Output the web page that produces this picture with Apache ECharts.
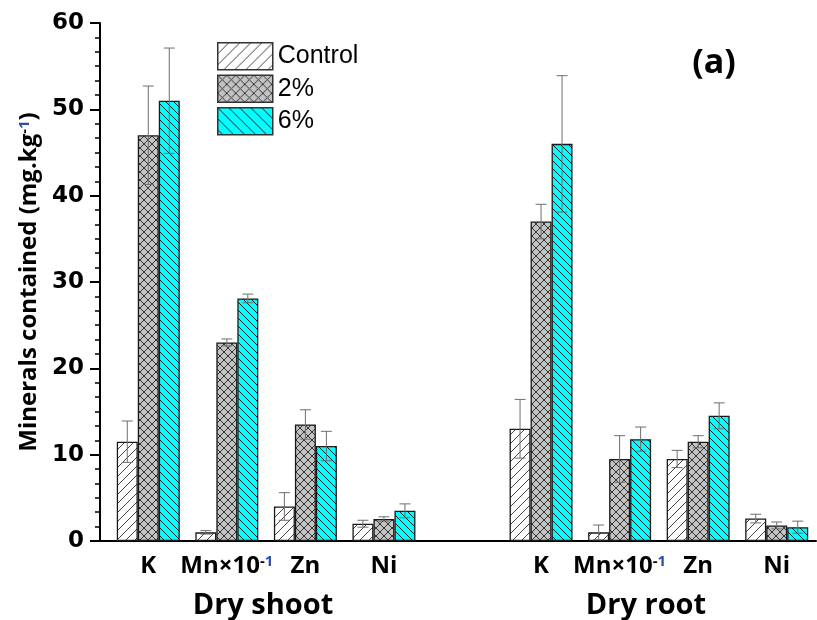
<!DOCTYPE html>
<html><head><meta charset="utf-8">
<script src="https://cdn.jsdelivr.net/npm/echarts@6/dist/echarts.min.js"></script>
<style>html,body{margin:0;padding:0;background:#fff}#c{width:817px;height:620px}</style>
</head><body><div id="c"></div>
<script>
// ---- data ----
var categories = ['K', 'Mn', 'Zn', 'Ni', '', 'K', 'Mn', 'Zn', 'Ni'];
var seriesNames = ['Control', '2%', '6%'];
var controlVals = [11.5, 1.0, 4.0, 2.0, '-', 13.0, 1.0, 9.5, 2.6];
var pct2Vals    = [47.0, 23.0, 13.5, 2.55, '-', 37.0, 9.5, 11.5, 1.8];
var pct6Vals    = [51.0, 28.1, 11.0, 3.5, '-', 46.0, 11.8, 14.5, 1.6];
var controlErr  = [2.4, 0.2, 1.6, 0.4, '-', 3.4, 0.85, 1.0, 0.5];
var pct2Err     = [5.7, 0.4, 1.7, 0.25, '-', 2.0, 2.7, 0.7, 0.4];
var pct6Err     = [6.1, 0.5, 1.7, 0.8, '-', 7.9, 1.4, 1.5, 0.7];
var yTicks = [0, 10, 20, 30, 40, 50, 60];
var groupLabels = ['Dry shoot', 'Dry root'];

// ---- patterns ----
function hatch(s, fill, stroke, dirs) {
  var c = document.createElement('canvas');
  c.width = s; c.height = s;
  var g = c.getContext('2d');
  g.fillStyle = fill; g.fillRect(0, 0, s, s);
  g.strokeStyle = stroke; g.lineWidth = 1;
  dirs.forEach(function (d) {
    g.beginPath();
    if (d === '/') {
      g.moveTo(0, s); g.lineTo(s, 0);
      g.moveTo(-1, 1); g.lineTo(1, -1);
      g.moveTo(s - 1, s + 1); g.lineTo(s + 1, s - 1);
    } else {
      g.moveTo(0, 0); g.lineTo(s, s);
      g.moveTo(-1, s - 1); g.lineTo(1, s + 1);
      g.moveTo(s - 1, -1); g.lineTo(s + 1, 1);
    }
    g.stroke();
  });
  return { image: c, repeat: 'repeat' };
}
var barPatterns = [
  hatch(9, '#ffffff', '#444444', ['/']),
  hatch(8, '#c3c3c3', '#333333', ['/', '\\']),
  hatch(8, '#00ffff', '#222222', ['\\'])
];
var legendPatterns = [
  hatch(11, '#ffffff', '#444444', ['/']),
  hatch(9, '#c3c3c3', '#333333', ['/', '\\']),
  hatch(11, '#00ffff', '#222222', ['\\'])
];

var vals = [controlVals, pct2Vals, pct6Vals];
var errs = [controlErr, pct2Err, pct6Err];
var BW = 21;

var series = [];
seriesNames.forEach(function (n, i) {
  series.push({
    name: n, type: 'bar', data: vals[i], barWidth: BW, barGap: '0%',
    itemStyle: { color: barPatterns[i], borderColor: '#1a1a1a', borderWidth: 1.3 },
    z: 2
  });
});
seriesNames.forEach(function (n, i) {
  var d = [];
  categories.forEach(function (c, k) {
    if (vals[i][k] !== '-') d.push([k, vals[i][k], errs[i][k]]);
  });
  series.push({
    type: 'custom', z: 5, silent: true,
    data: d,
    renderItem: function (params, api) {
      var k = api.value(0), v = api.value(1), e = api.value(2);
      var top = api.coord([k, v + e]);
      var bot = api.coord([k, v - e]);
      var x = top[0] + (i - 1) * BW;
      var hw = 5.5;
      var st = { stroke: '#6e6e6e', lineWidth: 1 };
      return { type: 'group', children: [
        { type: 'line', shape: { x1: x, y1: top[1], x2: x, y2: bot[1] }, style: st },
        { type: 'line', shape: { x1: x - hw, y1: top[1], x2: x + hw, y2: top[1] }, style: st },
        { type: 'line', shape: { x1: x - hw, y1: bot[1], x2: x + hw, y2: bot[1] }, style: st }
      ] };
    }
  });
});

var supRich = {
  sup: { fontSize: 15, verticalAlign: 'top', color: '#000', fontWeight: 'bold', fontFamily: 'Open Sans' },
  supb: { fontSize: 15, verticalAlign: 'top', color: '#2a4ea8', fontWeight: 'bold', fontFamily: 'Open Sans' }
};

var chart = echarts.init(document.getElementById('c'), null, { renderer: 'canvas' });
var gridLeft = 109, gridTop = 23, gridBottom = 79, gridWidth = 707;
chart.setOption({
  animation: false,
  grid: { left: gridLeft, top: gridTop, width: gridWidth, bottom: gridBottom },
  legend: {
    orient: 'vertical', left: 212, top: 37, icon: 'rect',
    itemWidth: 55, itemHeight: 27, itemGap: 4,
    textStyle: { fontFamily: 'Liberation Sans', fontSize: 25, color: '#000', padding: [0, 0, 0, 0] },
    data: seriesNames.map(function (n, i) {
      return { name: n, itemStyle: { color: legendPatterns[i], borderColor: '#333', borderWidth: 1.5 } };
    })
  },
  xAxis: {
    type: 'category', data: categories,
    axisLine: { lineStyle: { color: '#000', width: 2 } },
    axisTick: { alignWithLabel: true, interval: 0, length: 10, lineStyle: { color: '#000', width: 2 } },
    axisLabel: {
      interval: 0, margin: 13, color: '#000', fontFamily: 'Open Sans', fontWeight: 'bold', fontSize: 24,
      formatter: function (v) { return v === 'Mn' ? 'Mn×10{sup|-}{supb|1}' : v; },
      rich: supRich
    }
  },
  yAxis: {
    type: 'value', min: 0, max: 60, interval: 10, offset: 9,
    name: 'Minerals contained (mg.kg{sup|-}{supb|1})',
    nameLocation: 'middle', nameGap: 58,
    nameTextStyle: { fontFamily: 'Open Sans', fontWeight: 'bold', fontSize: 24, color: '#000', rich: supRich },
    axisLine: { show: true, lineStyle: { color: '#000', width: 2 } },
    axisTick: { show: true, length: 10, lineStyle: { color: '#000', width: 2 } },
    minorTick: { show: true, splitNumber: 6, length: 5, lineStyle: { color: '#000', width: 1.5 } },
    splitLine: { show: false },
    axisLabel: {
      margin: 16, color: '#000', fontFamily: 'DejaVu Sans', fontWeight: 'bold', fontSize: 23,
      formatter: function (v) { return yTicks.indexOf(v) >= 0 ? String(v) : ''; }
    }
  },
  graphic: [
    { type: 'line', shape: { x1: gridLeft - 10, y1: 541, x2: gridLeft + 1, y2: 541 }, style: { stroke: '#000', lineWidth: 2 } },
    { type: 'text', x: 263, y: 606, style: { text: groupLabels[0], fontFamily: 'Open Sans', fontWeight: 'bold', fontSize: 29, fill: '#000', align: 'center', verticalAlign: 'middle' } },
    { type: 'text', x: 646, y: 606, style: { text: groupLabels[1], fontFamily: 'Open Sans', fontWeight: 'bold', fontSize: 29, fill: '#000', align: 'center', verticalAlign: 'middle' } },
    { type: 'text', x: 714, y: 63, style: { text: '(a)', fontFamily: 'Open Sans', fontWeight: 'bold', fontSize: 34, fill: '#000', align: 'center', verticalAlign: 'middle' } }
  ],
  series: series
});
</script></body></html>
